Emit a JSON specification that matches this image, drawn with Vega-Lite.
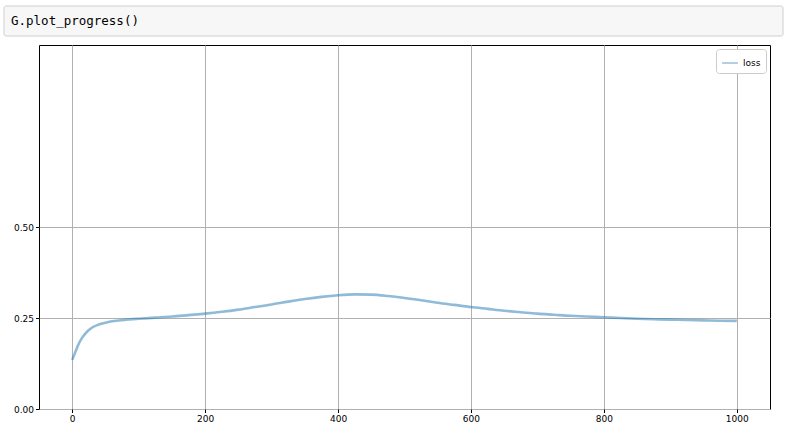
{
  "$schema": "https://vega.github.io/schema/vega-lite/v6.json",
  "padding": {"left": 3, "top": 5, "right": 5, "bottom": 0},
  "background": "white",
  "spacing": 7,
  "config": {"font": "DejaVu Sans"},
  "resolve": {"legend": {"color": "independent"}, "scale": {"x": "independent", "y": "independent", "color": "independent"}},
  "vconcat": [
    {
      "width": 731,
      "height": 30,
      "view": {"stroke": null},
      "data": {"values": [{"code": "G.plot_progress()"}]},
      "encoding": {
        "x": {"datum": 0, "type": "quantitative", "scale": {"domain": [0, 1], "range": [-35, 744]}, "axis": null},
        "y": {"datum": 0, "type": "quantitative", "scale": {"domain": [0, 1]}, "axis": null}
      },
      "layer": [
        {
          "mark": {"type": "rect", "fill": "#f7f7f7", "stroke": "#cfcfcf", "strokeWidth": 1, "cornerRadius": 2, "clip": false},
          "encoding": {"x2": {"datum": 1}, "y2": {"datum": 1}}
        },
        {
          "mark": {"type": "text", "align": "left", "baseline": "middle", "font": "DejaVu Sans Mono", "fontSize": 12.5, "dx": 7, "color": "#000", "clip": false},
          "encoding": {"text": {"field": "code"}, "y": {"datum": 0.5, "type": "quantitative"}}
        }
      ]
    },
    {
      "width": 731,
      "height": 364,
      "view": {"stroke": "#000", "strokeWidth": 1, "fill": "white"},
      "data": {"values": [
        {"step": 0, "loss": 0.135}, {"step": 5, "loss": 0.158}, {"step": 10, "loss": 0.18}, {"step": 15, "loss": 0.196},
        {"step": 20, "loss": 0.208}, {"step": 25, "loss": 0.217}, {"step": 30, "loss": 0.224}, {"step": 40, "loss": 0.232},
        {"step": 50, "loss": 0.237}, {"step": 60, "loss": 0.241}, {"step": 70, "loss": 0.243}, {"step": 80, "loss": 0.245},
        {"step": 90, "loss": 0.247}, {"step": 100, "loss": 0.248}, {"step": 125, "loss": 0.251}, {"step": 150, "loss": 0.254},
        {"step": 175, "loss": 0.258}, {"step": 200, "loss": 0.262}, {"step": 225, "loss": 0.267}, {"step": 250, "loss": 0.273},
        {"step": 275, "loss": 0.28}, {"step": 300, "loss": 0.287}, {"step": 325, "loss": 0.295}, {"step": 350, "loss": 0.302},
        {"step": 375, "loss": 0.308}, {"step": 400, "loss": 0.3125}, {"step": 425, "loss": 0.3148}, {"step": 450, "loss": 0.3142},
        {"step": 475, "loss": 0.3105}, {"step": 500, "loss": 0.305}, {"step": 525, "loss": 0.299}, {"step": 550, "loss": 0.292},
        {"step": 575, "loss": 0.286}, {"step": 600, "loss": 0.28}, {"step": 625, "loss": 0.275}, {"step": 650, "loss": 0.27},
        {"step": 675, "loss": 0.266}, {"step": 700, "loss": 0.262}, {"step": 725, "loss": 0.259}, {"step": 750, "loss": 0.256},
        {"step": 775, "loss": 0.254}, {"step": 800, "loss": 0.252}, {"step": 825, "loss": 0.25}, {"step": 850, "loss": 0.248},
        {"step": 875, "loss": 0.2465}, {"step": 900, "loss": 0.2455}, {"step": 925, "loss": 0.2445}, {"step": 950, "loss": 0.2435},
        {"step": 975, "loss": 0.2425}, {"step": 1000, "loss": 0.242}
      ]},
      "mark": {"type": "line", "opacity": 0.5, "strokeWidth": 2.6, "interpolate": "monotone"},
      "encoding": {
        "x": {
          "field": "step", "type": "quantitative",
          "scale": {"domain": [-50, 1050], "nice": false, "zero": false},
          "axis": {"values": [0, 200, 400, 600, 800, 1000], "format": "d", "title": null, "grid": true, "gridColor": "#b0b0b0", "gridOpacity": 1, "domain": false, "tickColor": "#000", "tickSize": 3.5, "labelFontSize": 9, "labelColor": "#000", "labelPadding": 2}
        },
        "y": {
          "field": "loss", "type": "quantitative",
          "scale": {"domain": [0, 1], "nice": false},
          "axis": {"values": [0, 0.25, 0.5], "format": ".2f", "title": null, "grid": true, "gridColor": "#b0b0b0", "gridOpacity": 1, "domain": false, "tickColor": "#000", "tickSize": 3.5, "labelFontSize": 9, "labelColor": "#000", "labelPadding": 2, "minExtent": 34, "maxExtent": 34}
        },
        "color": {
          "datum": "loss",
          "scale": {"range": ["#1f77b4"]},
          "legend": {"title": null, "orient": "top-right", "offset": 4, "fillColor": "white", "strokeColor": "#cccccc", "cornerRadius": 3, "padding": 5, "symbolType": "stroke", "symbolOpacity": 0.45, "symbolStrokeWidth": 1.5, "symbolSize": 250, "labelFontSize": 9, "labelColor": "#000"}
        }
      }
    }
  ]
}
